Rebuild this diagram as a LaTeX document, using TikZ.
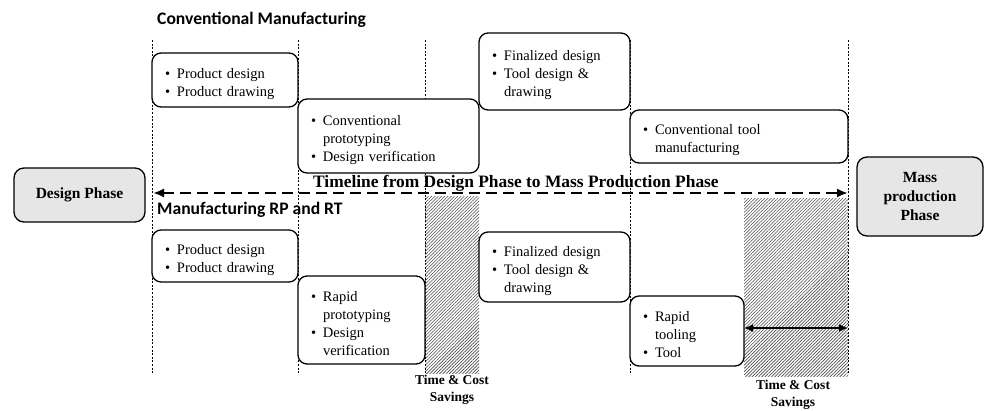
\documentclass[tikz,border=0pt]{standalone}
\usepackage{fontspec}
\setmainfont{Liberation Serif}
\newfontfamily\headfont{Carlito}
\usetikzlibrary{arrows.meta,patterns.meta}

\definecolor{phasegray}{RGB}{230,230,230}
\newcommand{\bitem}[1]{\par\noindent\hangindent=12pt\hangafter=1\makebox[12pt][l]{\textbullet}#1\par}

\tikzset{
  stage/.style={draw,fill=white,line width=1.3pt,rounded corners=9pt,anchor=north west,
    outer sep=0pt,inner xsep=13pt,inner ysep=0pt,align=left,
    font=\fontsize{14.5}{18}\selectfont},
  phase/.style={draw,fill=phasegray,line width=1.3pt,rounded corners=10pt,anchor=north west,
    outer sep=0pt,inner sep=0pt,align=center,font=\fontsize{15.5}{19}\selectfont\bfseries},
  heading/.style={anchor=west,inner sep=0pt,font=\headfont\fontsize{17.6}{20}\selectfont\bfseries},
  savings/.style={align=center,inner sep=0pt,font=\fontsize{13.5}{17}\selectfont\bfseries},
  hatch/.style={pattern={Lines[angle=45,distance=2.3pt,line width=0.6pt]},pattern color=black!70},
  guide/.style={line width=0.6pt,dash pattern=on 2pt off 1.6pt},
}

\begin{document}
\begin{tikzpicture}[x=1pt,y=-1pt]

  \useasboundingbox (0,0) rectangle (984,410);

  % savings areas
  \fill[hatch] (425,196) rectangle (479,373);
  \fill[hatch] (744,198) rectangle (848,376);

  \foreach \x in {152,298,425,630,848} {
    \draw[guide] (\x,40) -- (\x,374);
  }

  \node (CM) at (157,20) [heading] {Conventional Manufacturing};
  \node (RPRT) at (157,210) [heading] {Manufacturing RP and RT};

  % conventional route
  \node (C1) at (152,53) [stage,text width=120pt,minimum height=54pt]
    {\bitem{Product design}\bitem{Product drawing}};
  \node (C2) at (298,99) [stage,text width=155pt,minimum height=74pt]
    {\bitem{Conventional\newline prototyping}\bitem{Design verification}};
  \node (C3) at (479,33) [stage,text width=125pt,minimum height=77pt]
    {\bitem{Finalized design}\bitem{Tool design \&\newline drawing}};
  \node (C4) at (630,110) [stage,text width=192pt,minimum height=53pt]
    {\bitem{Conventional tool\newline manufacturing}};

  % RP and RT route
  \node (R1) at (152,230) [stage,text width=120pt,minimum height=52pt]
    {\bitem{Product design}\bitem{Product drawing}};
  \node (R2) at (298,276) [stage,text width=101pt,minimum height=88pt]
    {\bitem{Rapid\newline prototyping}\bitem{Design\newline verification}};
  \node (R3) at (479,232) [stage,text width=125pt,minimum height=70pt]
    {\bitem{Finalized design}\bitem{Tool design \&\newline drawing}};
  \node (R4) at (630,296) [stage,text width=88pt,minimum height=70pt]
    {\bitem{Rapid\newline tooling}\bitem{Tool}};

  \node (DP) at (14,168) [phase,minimum width=131pt,minimum height=54pt] {Design Phase};
  \node (MP) at (857,157) [phase,minimum width=126pt,minimum height=79pt] {Mass\\production\\Phase};

  % timeline
  \coordinate (TLL) at (153,193);
  \coordinate (TLR) at (848,193);
  \draw[line width=2.2pt,dash pattern=on 11pt off 6pt,
    {Latex[length=11pt,width=9pt]}-{Latex[length=11pt,width=9pt]}] (TLL) -- (TLR);
  \node (TL) at (313,183) [anchor=west,inner sep=0pt,font=\fontsize{17.4}{20}\selectfont\bfseries]
    {Timeline from Design Phase to Mass Production Phase};

  \coordinate (SAVR) at (848,328);
  \draw[line width=1.6pt,{Latex[length=9pt,width=8pt]}-{Latex[length=9pt,width=8pt]}]
    (R4.east |- SAVR) -- (SAVR);

  \node (TCS1) at (452,390) [savings] {Time \& Cost\\Savings};
  \node (TCS2) at (793,395) [savings] {Time \& Cost\\Savings};

\end{tikzpicture}
\end{document}
